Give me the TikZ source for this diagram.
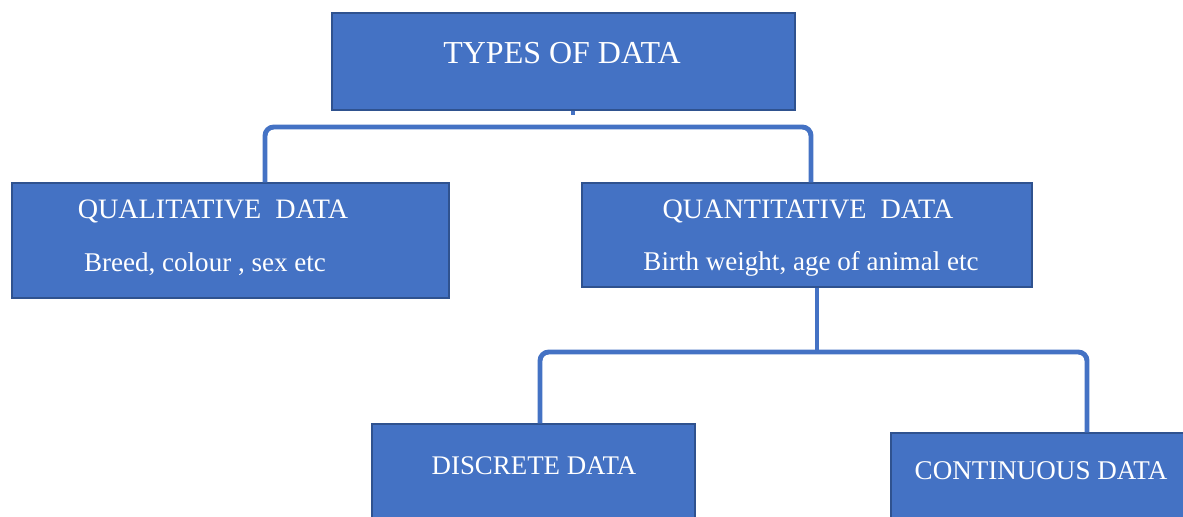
\documentclass[tikz,border=0pt]{standalone}
\usepackage{fontspec}
\setmainfont{Liberation Serif}
\usetikzlibrary{positioning}
\definecolor{boxblue}{HTML}{4472C4}
\definecolor{boxedge}{HTML}{2F528F}
\tikzset{
    box/.style={draw=boxedge, fill=boxblue, line width=0.8pt, inner sep=0pt}, % blue boxes
    txt/.style={text=white, inner sep=0pt, anchor=center}, % white labels
    link/.style={draw=boxblue, line width=2.8pt, rounded corners=5pt}, % brackets
}

\begin{document}
\begin{tikzpicture}[x=0.02cm, y=-0.02cm,
    big/.style={txt, font=\fontsize{18.2}{20}\selectfont},
    caps/.style={txt, font=\fontsize{16}{18}\selectfont},
    mid/.style={txt, font=\fontsize{15.4}{18}\selectfont},
    small/.style={txt, font=\fontsize{15.3}{17}\selectfont}
]
    \clip (0,0) rectangle (1183,517);
    \useasboundingbox (0,0) rectangle (1183,517);

    % --- Boxes ---
    \node[box, minimum width=9.26cm, minimum height=1.94cm] (types) at (563.5,61.5) {};
    \node[box, minimum width=8.74cm, minimum height=2.30cm] (quali) at (230.5,240.5) {};
    \node[box, minimum width=9.00cm, minimum height=2.08cm] (quanti) at (807,235) {};
    \node[box, minimum width=6.46cm, minimum height=2.12cm] (discrete) at (533.5,477) {};
    \node[box, minimum width=6.18cm, minimum height=1.94cm] (continuous) at (1045.5,481.5) {};

    % --- Texts ---
    \node[big] (typestxt) at (562,53) {TYPES OF DATA};
    \node[caps] (qualitxt) at (213,211) {QUALITATIVE\ \ DATA};
    \node[mid] (qualiex) at (205,264) {Breed, colour , sex etc};
    \node[caps] (quantitxt) at (808,211) {QUANTITATIVE\ \ DATA};
    \node[mid] (quantiex) at (811,264) {Birth weight, age of animal etc};
    \node[small] (discretetxt) at (534,466) {DISCRETE DATA};
    \node[mid] (continuoustxt) at (1041,471) {CONTINUOUS DATA};

    % --- Brackets ---
    \coordinate (j1) at (573,127);
    \coordinate (q1) at (265,127);
    \coordinate (q2) at (811,127);
    \coordinate (j2) at (817,352);
    \coordinate (d1) at (540,352);
    \coordinate (d2) at (1087,352);

    \draw[link] (types.south -| j1) -- ++(0,4);
    \draw[link] (quali.north -| q1) -- (q1) -- (q2) -- (quanti.north -| q2);
    \draw[link] (quanti.south -| j2) -- (j2);
    \draw[link] (discrete.north -| d1) -- (d1) -- (d2) -- (continuous.north -| d2);

\end{tikzpicture}
\end{document}
